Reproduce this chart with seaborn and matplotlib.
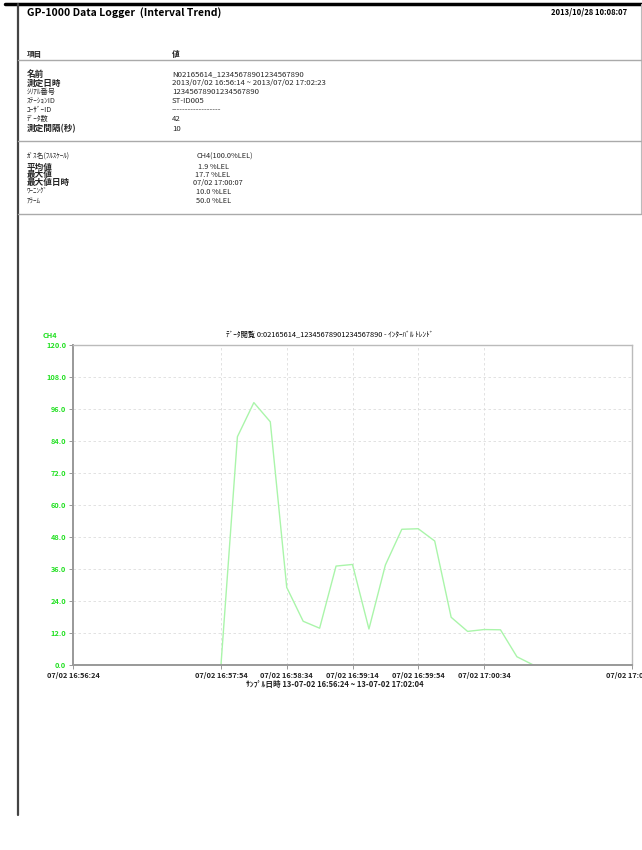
import numpy as np
import pandas as pd
import matplotlib
matplotlib.use("Agg")
import matplotlib.pyplot as plt
from matplotlib.lines import Line2D
import seaborn as sns

sns.set_theme(style="white")
plt.rcParams['font.family'] = ['Noto Sans CJK JP', 'DejaVu Sans']

# ---------------- data ----------------
times = ["16:56:24", "16:56:34", "16:56:44", "16:56:54", "16:57:04", "16:57:14",
         "16:57:24", "16:57:34", "16:57:44", "16:57:54", "16:58:04", "16:58:14",
         "16:58:24", "16:58:34", "16:58:44", "16:58:54", "16:59:04", "16:59:14",
         "16:59:24", "16:59:34", "16:59:44", "16:59:54", "17:00:04", "17:00:14",
         "17:00:24", "17:00:34", "17:00:44", "17:00:54", "17:01:04", "17:01:14",
         "17:01:24", "17:01:34", "17:01:44", "17:01:54", "17:02:04"]
ch4 = [0, 0, 0, 0, 0, 0, 0, 0, 0, 0,
       85.6, 98.4, 91.2, 29.1, 16.4, 13.8, 37.1, 37.7, 13.5, 37.5,
       50.9, 51.1, 46.5, 17.9, 12.6, 13.3, 13.2, 3.1, 0, 0,
       0, 0, 0, 0, 0]
labeled_times = ["16:56:24", "16:57:54", "16:58:34", "16:59:14", "16:59:54", "17:00:34", "17:02:04"]
y_ticks = [0, 12, 24, 36, 48, 60, 72, 84, 96, 108, 120]

info_labels = ["名前", "測定日時", "ｼﾘｱﾙ番号", "ｽﾃｰｼｮﾝID", "ﾕｰｻﾞｰID", "ﾃﾞｰﾀ数", "測定間隔(秒)"]
info_values = ["N02165614_12345678901234567890",
               "2013/07/02 16:56:14 ~ 2013/07/02 17:02:23",
               "12345678901234567890", "ST-ID005", "------------------", "42", "10"]
info_bold = [True, True, False, False, False, False, True]

gas_labels = ["ｶﾞｽ名(ﾌﾙｽｹｰﾙ)", "平均値", "最大値", "最大値日時", "ﾜｰﾆﾝｸﾞ", "ｱﾗｰﾑ"]
gas_values = ["CH4(100.0%LEL)", "1.9 %LEL", "17.7 %LEL", "07/02 17:00:07", "10.0 %LEL", "50.0 %LEL"]
gas_bold = [False, True, True, True, False, False]

df = pd.DataFrame({"idx": np.arange(len(times)), "time": times, "ch4": ch4})

# ---------------- figure ----------------
W, H = 642, 850
fig = plt.figure(figsize=(W / 100, H / 100), dpi=100)
fig.patch.set_facecolor("white")

def fx(x):
    return x / W

def fy(y):
    return 1 - y / H

def hline(y, x0, x1, color, lw):
    fig.add_artist(Line2D([fx(x0), fx(x1)], [fy(y), fy(y)], color=color, lw=lw,
                          transform=fig.transFigure))

def vline(x, y0, y1, color, lw):
    fig.add_artist(Line2D([fx(x), fx(x)], [fy(y0), fy(y1)], color=color, lw=lw,
                          transform=fig.transFigure))

# frame lines
hline(4, 5, 642, "black", 2.5)
vline(18, 4, 815, "#444444", 1.6)
vline(641, 4, 214, "#bbbbbb", 0.8)
hline(60, 18, 641, "#aaaaaa", 1.0)
hline(141, 18, 641, "#aaaaaa", 1.0)
hline(214, 18, 641, "#aaaaaa", 1.0)

# header
fig.text(fx(27), fy(13), "GP-1000 Data Logger  (Interval Trend)", fontsize=7.5,
         fontweight="bold", va="center", ha="left", color="black")
fig.text(fx(627), fy(12), "2013/10/28 10:08:07", fontsize=5.5, fontweight="bold",
         va="center", ha="right", color="black")
fig.text(fx(27), fy(55), "項目", fontsize=5.5, fontweight="bold", va="center", ha="left")
fig.text(fx(172), fy(55), "値", fontsize=5.5, fontweight="bold", va="center", ha="left")

info_y = [74, 83, 92, 101, 110, 119, 129]
for lab, val, b, y in zip(info_labels, info_values, info_bold, info_y):
    fig.text(fx(27), fy(y), lab, fontsize=6.2 if b else 5.2,
             fontweight="bold" if b else "normal", va="center", ha="left")
    fig.text(fx(172), fy(y), val, fontsize=5.6, va="center", ha="left")

gas_y = [157, 167, 175, 183, 192, 201]
gas_x = [225, 213, 213, 218, 214, 214]
for lab, val, b, y, x in zip(gas_labels, gas_values, gas_bold, gas_y, gas_x):
    fig.text(fx(27), fy(y), lab, fontsize=6.2 if b else 5.0,
             fontweight="bold" if b else "normal", va="center", ha="left")
    fig.text(fx(x), fy(y), val, fontsize=5.3, va="center", ha="center")

# chart
L, R, T, B = 73, 632, 345, 665
ax = fig.add_axes([fx(L), fy(B), fx(R) - fx(L), fy(T) - fy(B)])
sns.lineplot(data=df, x="idx", y="ch4", ax=ax, color="#aaf5aa", lw=1.0)
ax.set_xlim(0, len(times) - 1)
ax.set_ylim(0, 120)
ax.set_yticks(y_ticks)
ax.set_yticklabels([f"{v:.1f}" for v in y_ticks], color="#22e022", fontsize=5.3,
                   fontweight="bold")
tick_idx = [times.index(t) for t in labeled_times]
ax.set_xticks(tick_idx)
ax.set_xticklabels(["07/02 " + t for t in labeled_times], fontsize=5.3,
                   color="#222222", fontweight="bold")
ax.tick_params(axis="both", which="both", length=3, width=0.6, color="#888888",
               pad=2, left=True, bottom=True)
ax.grid(True, linestyle=(0, (3, 3)), color="#dddddd", lw=0.6)
for side in ["left", "bottom"]:
    ax.spines[side].set_color("#999999")
    ax.spines[side].set_linewidth(1.4)
for side in ["top", "right"]:
    ax.spines[side].set_color("#bbbbbb")
    ax.spines[side].set_linewidth(1.0)
ax.set_xlabel("")
ax.set_ylabel("")

fig.text(fx(50), fy(336), "CH4", fontsize=5.3, fontweight="bold", color="#22e022",
         ha="center", va="center")
fig.text(fx(330), fy(335),
         "ﾃﾞｰﾀ閲覧 0:02165614_12345678901234567890 - ｲﾝﾀｰﾊﾞﾙ ﾄﾚﾝﾄﾞ",
         fontsize=5.3, ha="center", va="center", color="black")
fig.text(fx(335), fy(684), f"ｻﾝﾌﾟﾙ日時 13-07-02 {times[0]} ~ 13-07-02 {times[-1]}",
         fontsize=5.5, fontweight="bold", ha="center", va="center", color="#222222")

fig.savefig("out.png", dpi=100, facecolor="white")
